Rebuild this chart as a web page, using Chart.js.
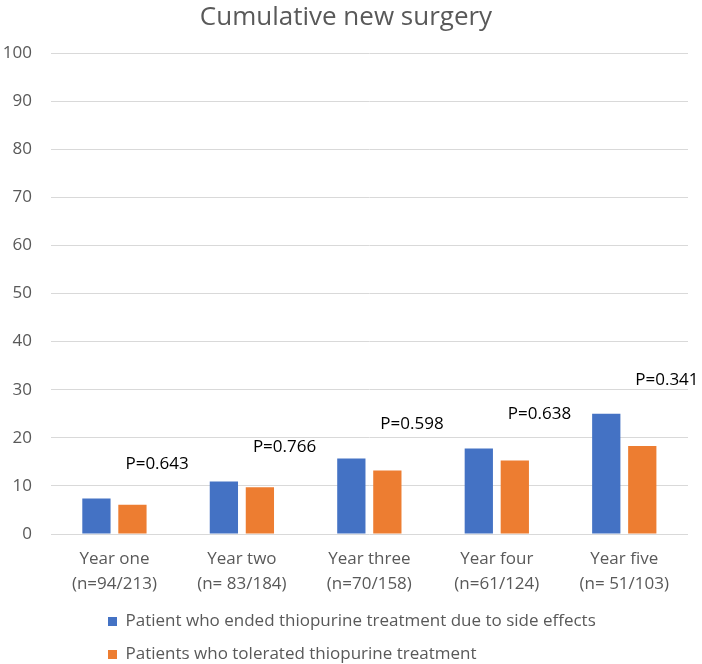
<!DOCTYPE html>
<html lang="en">
    <head>
        <meta charset="UTF-8">
        <script src="https://cdn.jsdelivr.net/npm/chart.js"></script>
        <style>
            html, body {
                margin: 0;
                padding: 0;
                background: #fff;
            }

            #wrap {
                width: 702px;
                height: 664px;
            }
        </style>
        <title>Cumulative new surgery</title>
    </head>
    <body>
        <div id="wrap">
            <canvas id="surgery-chart"></canvas>
        </div>
    </body>
    <script>
        // data
        const years = [
            ['Year one', '(n=94/213)'],
            ['Year two', '(n= 83/184)'],
            ['Year three', '(n=70/158)'],
            ['Year four', '(n=61/124)'],
            ['Year five', '(n= 51/103)']
        ];
        const endedSideEffects = [7.4, 10.9, 15.7, 17.8, 25.0];
        const tolerated = [6.1, 9.7, 13.2, 15.3, 18.3];
        const pValues = ['P=0.643', 'P=0.766', 'P=0.598', 'P=0.638', 'P=0.341'];

        Chart.defaults.font.family = "'Open Sans', sans-serif";
        Chart.defaults.font.size = 17;
        Chart.defaults.color = '#595959';

        // p-value text above each pair of bars
        const pLabels = {
            id: 'pLabels',
            afterDatasetsDraw(chart) {
                const {ctx, scales: {x, y}} = chart;
                ctx.save();
                ctx.font = "17px 'Open Sans', sans-serif";
                ctx.fillStyle = '#000';
                ctx.textAlign = 'left';
                ctx.textBaseline = 'middle';
                pValues.forEach((p, i) => {
                    const top = Math.max(endedSideEffects[i], tolerated[i]);
                    ctx.fillText(p, x.getPixelForValue(i) + 11, y.getPixelForValue(top) - 34);
                });
                ctx.restore();
            }
        };

        // legend rows sit left-aligned under the axis
        const legendShift = {
            id: 'legendShift',
            afterLayout(chart) {
                const lg = chart.legend;
                lg.left = 92;
                lg.top = 597;
                lg.bottom = 664;
                lg.height = lg.bottom - lg.top;
                lg.width = lg.right - lg.left;
            }
        };

        new Chart(
            document.getElementById('surgery-chart'),
            {
                type: 'bar',
                data: {
                    labels: years,
                    datasets: [
                        {
                            label: 'Patient who ended thiopurine treatment due to side effects',
                            data: endedSideEffects,
                            backgroundColor: '#4472C4',
                            borderWidth: 0,
                            categoryPercentage: 0.565,
                            barPercentage: 0.785
                        },
                        {
                            label: 'Patients who tolerated thiopurine treatment',
                            data: tolerated,
                            backgroundColor: '#ED7D31',
                            borderWidth: 0,
                            categoryPercentage: 0.565,
                            barPercentage: 0.785
                        }
                    ]
                },
                options: {
                    responsive: true,
                    maintainAspectRatio: false,
                    animation: false,
                    layout: {
                        padding: {left: 4, right: 14, top: 0, bottom: 0}
                    },
                    scales: {
                        x: {
                            grid: {display: false, drawTicks: false},
                            border: {display: false},
                            ticks: {
                                padding: 12.5,
                                maxRotation: 0,
                                font: {size: 17, lineHeight: 1.47}
                            },
                            afterFit(axis) {
                                axis.height = 62.5;
                                axis.paddingLeft = 0;
                                axis.paddingRight = 0;
                            }
                        },
                        y: {
                            min: 0,
                            max: 100,
                            grid: {color: '#d9d9d9', drawTicks: false},
                            border: {display: false},
                            ticks: {
                                stepSize: 10,
                                padding: 18.7
                            },
                            afterFit(axis) {
                                axis.width = 46.7;
                            }
                        }
                    },
                    plugins: {
                        title: {
                            display: true,
                            text: 'Cumulative new surgery',
                            color: '#595959',
                            font: {size: 26, weight: 'normal'},
                            padding: {top: 2.4, bottom: 19.4}
                        },
                        legend: {
                            position: 'bottom',
                            align: 'start',
                            maxHeight: 67.5,
                            labels: {
                                boxWidth: 9,
                                boxHeight: 9,
                                padding: 16,
                                color: '#595959',
                                font: {size: 17}
                            }
                        },
                        tooltip: {enabled: false}
                    }
                },
                plugins: [pLabels, legendShift]
            }
        );
    </script>
</html>
